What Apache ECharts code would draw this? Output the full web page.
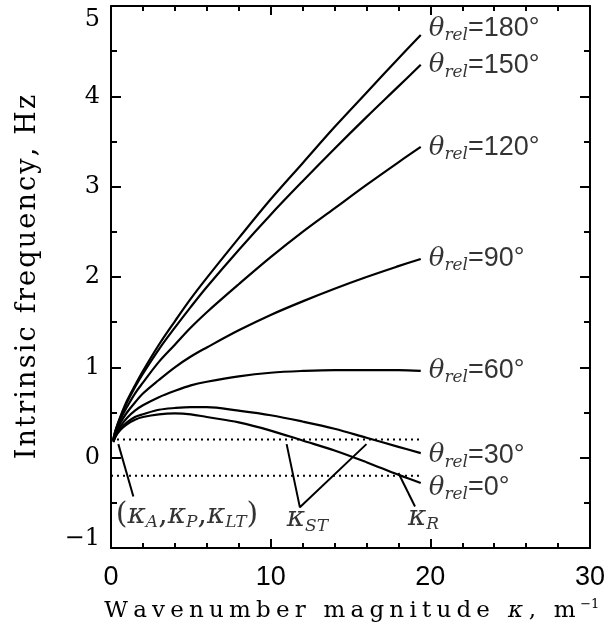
<!DOCTYPE html>
<html><head><meta charset="utf-8">
<script src="https://cdn.jsdelivr.net/npm/echarts/dist/echarts.min.js"></script>
<style>html,body{margin:0;padding:0;background:#fff}#c{width:605px;height:632px}</style>
</head><body><div id="c"></div>
<script>
// wavenumber magnitude (m^-1)
const kappa    = [0.15, 0.3, 0.6, 1, 1.5, 2, 3, 4, 5, 6, 8, 10, 12, 14, 16, 18, 19.4];
// intrinsic frequency (Hz) for each relative angle
const theta180 = [0.21, 0.31, 0.46, 0.63, 0.80, 0.96, 1.25, 1.51, 1.76, 1.99, 2.43, 2.86, 3.26, 3.66, 4.04, 4.42, 4.68];
const theta150 = [0.21, 0.31, 0.45, 0.61, 0.78, 0.93, 1.20, 1.44, 1.67, 1.89, 2.30, 2.69, 3.06, 3.42, 3.77, 4.11, 4.35];
const theta120 = [0.20, 0.29, 0.43, 0.56, 0.71, 0.83, 1.06, 1.25, 1.44, 1.61, 1.92, 2.22, 2.50, 2.76, 3.02, 3.27, 3.44];
const theta90  = [0.19, 0.27, 0.39, 0.50, 0.61, 0.71, 0.86, 1.00, 1.12, 1.22, 1.41, 1.58, 1.73, 1.87, 2.00, 2.12, 2.20];
const theta60  = [0.18, 0.25, 0.35, 0.44, 0.52, 0.58, 0.67, 0.74, 0.80, 0.84, 0.90, 0.94, 0.96, 0.97, 0.97, 0.97, 0.96];
const theta30  = [0.18, 0.24, 0.32, 0.39, 0.45, 0.48, 0.53, 0.55, 0.56, 0.56, 0.52, 0.47, 0.40, 0.32, 0.22, 0.12, 0.05];
const theta0   = [0.17, 0.24, 0.31, 0.37, 0.42, 0.45, 0.48, 0.49, 0.48, 0.45, 0.39, 0.30, 0.19, 0.08, -0.05, -0.19, -0.28];
const angles   = [180, 150, 120, 90, 60, 30, 0];
const curves   = [theta180, theta150, theta120, theta90, theta60, theta30, theta0];
// vertical nudge of each curve label (px)
const labelShift = [-6, 1, 1, 0, 0, 2, 5];

// dotted reference levels
const refLevels = [0.2, -0.2];
const refStart = 0, refEnd = 19.3;

// leader lines (data units)
const leaderA  = [[0.46, 0.15], [1.40, -0.43]];
const leaderST = [[11.0, 0.15], [11.83, -0.55], [16.0, 0.15]];
const leaderR  = [[18.0, -0.17], [19.04, -0.54]];

// annotation texts
const annoX = [0.30, 11.0, 18.6];
const annoY = [-0.64, -0.68, -0.66];
const annoText = [
  '{p|(}{k|κ}{s|A}{p|,}{k|κ}{s|P}{p|,}{k|κ}{s|LT}{p|)}',
  '{k|κ}{s|ST}',
  '{k|κ}{s|R}'
];

const xTicks = {min: 0, max: 30, interval: 10};
const yTicks = {min: -1, max: 5, interval: 1};

function spaced(str, key) {
  return Array.from(str).map(c => '{' + key + '|' + c + '}').join('');
}

const chart = echarts.init(document.getElementById('c'), null, {renderer: 'canvas'});

const serif = '"DejaVu Serif", serif';
const sans = '"Liberation Sans", Arial, Helvetica, sans-serif';

const annoRich = {
  p: {fontFamily: serif, fontSize: 30, color: '#000'},
  k: {fontFamily: serif, fontStyle: 'italic', fontSize: 28, color: '#000'},
  s: {fontFamily: serif, fontStyle: 'italic', fontSize: 17, color: '#000', padding: [14, 0, 0, 0]}
};

const thetaRich = {
  t: {fontFamily: serif, fontStyle: 'italic', fontSize: 26, color: '#000'},
  s: {fontFamily: serif, fontStyle: 'italic', fontSize: 17, color: '#000', padding: [14, 0, 0, 0]},
  v: {fontFamily: sans, fontSize: 27, color: '#000'}
};

const series = [];
curves.forEach((vals, i) => {
  series.push({
    type: 'line',
    name: 'theta' + angles[i],
    data: kappa.map((k, j) => [k, vals[j]]),
    showSymbol: false,
    smooth: 0.35,
    lineStyle: {color: '#000', width: 2.2},
    silent: true
  });
});
// curve labels at each curve's last point
series.push({
  type: 'scatter',
  data: curves.map(vals => [kappa[kappa.length - 1], vals[vals.length - 1]]),
  symbolSize: 0,
  silent: true,
  label: {
    show: true,
    position: 'right',
    distance: 8,
    formatter: p => '{t|θ}{s|rel}{v|=' + angles[p.dataIndex] + '°}',
    rich: thetaRich
  },
  labelLayout: p => ({dy: labelShift[p.dataIndex]})
});
refLevels.forEach(lv => {
  series.push({
    type: 'line',
    data: [[refStart, lv], [refEnd, lv]],
    showSymbol: false,
    silent: true,
    lineStyle: {color: '#000', width: 2, type: [2, 4]}
  });
});
[leaderA, leaderST, leaderR].forEach(ld => {
  series.push({
    type: 'line',
    data: ld,
    showSymbol: false,
    silent: true,
    lineStyle: {color: '#000', width: 2}
  });
});
series.push({
  type: 'scatter',
  data: annoX.map((x, i) => [x, annoY[i]]),
  symbolSize: 0,
  silent: true,
  label: {
    show: true,
    position: 'right',
    distance: 0,
    formatter: p => annoText[p.dataIndex],
    rich: annoRich
  }
});

const tickStyle = {color: '#000', width: 2};
const baseX = {
  type: 'value', min: xTicks.min, max: xTicks.max, interval: xTicks.interval,
  axisLine: {show: true, onZero: false, lineStyle: {color: '#000', width: 2}},
  axisTick: {show: true, inside: true, length: 9, lineStyle: tickStyle},
  minorTick: {show: true, splitNumber: 5, length: 5, lineStyle: {color: '#000', width: 2}},
  splitLine: {show: false}, minorSplitLine: {show: false}
};
const baseY = {
  type: 'value', min: yTicks.min, max: yTicks.max, interval: yTicks.interval,
  axisLine: {show: true, onZero: false, lineStyle: {color: '#000', width: 2}},
  axisTick: {show: true, inside: true, length: 10, lineStyle: tickStyle},
  minorTick: {show: true, splitNumber: 2, length: 6, lineStyle: {color: '#000', width: 2}},
  splitLine: {show: false}, minorSplitLine: {show: false}
};

const xName = spaced('Wavenumber magnitude ', 'a') + '{k|κ}' + spaced(', m', 'a') + '{sup|−1}';
const yName = spaced('Intrinsic frequency, Hz', 'a');

chart.setOption({
  animation: false,
  backgroundColor: '#fff',
  grid: {left: 111, right: 15, top: 6, bottom: 84, containLabel: false, outerBoundsMode: 'none'},
  xAxis: [
    Object.assign({}, baseX, {
      position: 'bottom',
      axisLabel: {show: true, fontFamily: sans, fontSize: 27, color: '#000', margin: 16, showMinLabel: true, showMaxLabel: true},
      name: xName,
      nameLocation: 'middle',
      nameGap: 50,
      nameMoveOverlap: false,
      nameTextStyle: {
        color: '#000',
        rich: {
          a: {fontFamily: serif, fontSize: 23, color: '#000', padding: [0, 2.6, 0, 2.6]},
          k: {fontFamily: serif, fontStyle: 'italic', fontSize: 23, color: '#000', padding: [0, 3, 0, 3]},
          sup: {fontFamily: serif, fontSize: 13, color: '#000', padding: [0, 0, 14, 2]}
        }
      }
    }),
    Object.assign({}, baseX, {position: 'top', axisLabel: {show: false}})
  ],
  yAxis: [
    Object.assign({}, baseY, {
      position: 'left',
      axisLabel: {
        show: true, color: '#000', margin: 11, showMinLabel: true, showMaxLabel: true,
        fontFamily: serif, fontSize: 24,
        formatter: v => v === 5 ? '{top|5}' : (v === -1 ? '{bot|−1}' : '{n|' + v + '}'),
        rich: {
          n: {fontFamily: serif, fontSize: 24, color: '#000'},
          top: {fontFamily: serif, fontSize: 24, color: '#000', padding: [28, 0, 0, 0]},
          bot: {fontFamily: serif, fontSize: 24, color: '#000', padding: [0, 0, 18, 0]}
        }
      },
      name: yName,
      nameLocation: 'middle',
      nameRotate: 90,
      nameGap: 70,
      nameMoveOverlap: false,
      nameTextStyle: {
        color: '#000',
        rich: {
          a: {fontFamily: serif, fontSize: 27, color: '#000', padding: [0, 1.1, 0, 1.1]}
        }
      }
    }),
    Object.assign({}, baseY, {position: 'right', axisLabel: {show: false}})
  ],
  series: series
});
</script>
</body></html>
